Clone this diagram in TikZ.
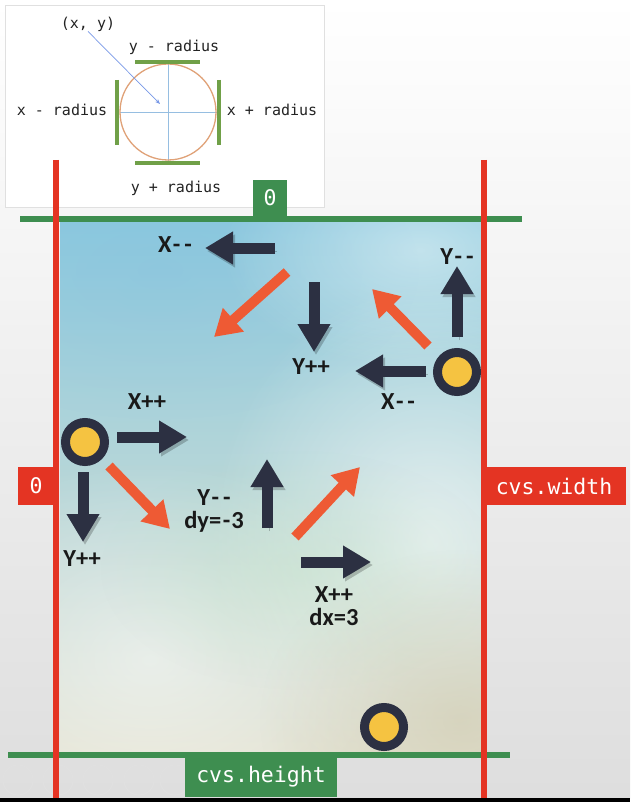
\documentclass[tikz,border=0pt]{standalone}
\usepackage{fontspec}
\setmainfont{Carlito}
\newfontfamily\codefont{DejaVu Sans Mono}
\usetikzlibrary{arrows.meta,fadings}

\definecolor{ballnavy}{RGB}{44,48,66}
\definecolor{ballyellow}{RGB}{245,195,65}
\definecolor{hotorange}{RGB}{238,90,52}
\definecolor{edgered}{RGB}{228,52,35}
\definecolor{edgegreen}{RGB}{62,142,80}
\definecolor{barsgreen}{RGB}{112,160,72}
\definecolor{ringtan}{RGB}{224,162,120}
\definecolor{crossblue}{RGB}{150,190,225}
\definecolor{inktext}{RGB}{35,35,35}
\definecolor{washtop}{RGB}{140,202,222}
\definecolor{washmid}{RGB}{205,228,226}
\definecolor{washlow}{RGB}{226,226,210}
\definecolor{washbeige}{RGB}{205,198,168}

\tikzfading[name=softspot, inner color=transparent!0, outer color=transparent!100]
\newcommand{\dminus}{\kern1.5pt-\kern4pt-}

\begin{document}
\begin{tikzpicture}[x=1pt,y=-1pt,
darkarrow/.style={draw=ballnavy, line width=11pt, -{Triangle[width=31pt,length=28pt]},
  preaction={draw=black, draw opacity=0.22, fill opacity=0.22, transform canvas={shift={(2pt,-3pt)}}}},
hotarrow/.style={draw=hotorange, line width=10pt, -{Triangle[width=30pt,length=26pt]}},
ballnode/.style={circle, draw=ballnavy, line width=9pt, fill=ballyellow, minimum size=39pt, inner sep=0pt},
movelabel/.style={font=\fontsize{24.5}{23}\selectfont\bfseries, text=black!90, align=center, inner sep=0pt},
sketchlabel/.style={font=\codefont\fontsize{15}{16}\selectfont, text=inktext, inner sep=0pt},
tagbox/.style={font=\codefont\fontsize{21.5}{22}\selectfont, text=white, inner sep=0pt},
guidered/.style={draw=edgered, line width=6pt},
guidegreen/.style={draw=edgegreen, line width=6pt},
sidebar/.style={draw=barsgreen, line width=4pt},
]
\useasboundingbox (0,0) rectangle (630,802);

%Slide background
\shade[top color=white, bottom color=black!13] (0,0) rectangle (630,798);
\fill[black] (0,798) rectangle (630,802);

%Canvas
\shade[top color=washtop, middle color=washmid, bottom color=washlow] (60,222) rectangle (482,752);
\begin{scope}
\clip (60,222) rectangle (482,752);
\fill[washtop!90!blue, fill opacity=0.2, path fading=softspot] (160,270) ellipse [x radius=260pt, y radius=150pt];
\fill[white, fill opacity=0.45, path fading=softspot] (420,250) ellipse [x radius=200pt, y radius=120pt];
\fill[white, fill opacity=0.6, path fading=softspot] (430,540) ellipse [x radius=220pt, y radius=260pt];
\fill[white, fill opacity=0.5, path fading=softspot] (150,660) ellipse [x radius=260pt, y radius=200pt];
\fill[washbeige, fill opacity=0.55, path fading=softspot] (460,720) ellipse [x radius=200pt, y radius=170pt];
\fill[green!40!gray!40, fill opacity=0.3, path fading=softspot] (300,570) ellipse [x radius=200pt, y radius=120pt];
\end{scope}

%Player controls
\foreach \cx in {18,58,98,139,175,217}
  \draw[black!12, line width=1.2pt] (\cx,780) circle [radius=15pt];

%Sketch
\draw[black!12, fill=white] (5,5) rectangle (324,207);
\node[sketchlabel] (xylabel)  at (88,24)  {(x, y)};
\node[sketchlabel] (ytop)     at (174,47) {y - radius};
\node[sketchlabel] (xleft)    at (62,110) {x - radius};
\node[sketchlabel] (xright)   at (272,110) {x + radius};
\node[sketchlabel] (ybottom)  at (176,188) {y + radius};
\coordinate (centre) at (168,112);
\coordinate (pointat) at (160,104);
\draw[crossblue, line width=0.8pt] (120,112) -- (217,112);
\draw[crossblue, line width=0.8pt] (168,63) -- (168,161);
\draw[ringtan, line width=1.3pt] (centre) circle [radius=48pt];
\draw[sidebar] (135,62) -- (200,62);
\draw[sidebar] (135,163) -- (200,163);
\draw[sidebar] (117,80) -- (117,145);
\draw[sidebar] (219,80) -- (219,145);
\draw[crossblue!80!blue, line width=0.7pt, -{Stealth[length=5pt,width=4pt]}] (xylabel.south) -- (pointat);

%Edges
\draw[guidegreen] (20,219) -- (522,219);
\draw[guidegreen] (8,755) -- (510,755);
\draw[guidered] (56,160) -- (56,798);
\draw[guidered] (484,160) -- (484,798);

%Tags
\node[tagbox, fill=edgegreen, minimum width=34pt, minimum height=36pt] (topzero)   at (270,198) {0};
\node[tagbox, fill=edgered,   minimum width=36pt, minimum height=38pt] (leftzero)  at (36,486)  {0};
\node[tagbox, fill=edgered,   minimum width=144pt, minimum height=38pt] (cvswidth) at (554,486) {cvs.width};
\node[tagbox, fill=edgegreen, minimum width=152pt, minimum height=40pt] (cvsheight) at (261,777) {cvs.height};

%Balls
\node[ballnode] (ballright)  at (457,372) {};
\node[ballnode] (ballleft)   at (85,442)  {};
\node[ballnode] (ballbottom) at (384,727) {};

%Arrow ends
\coordinate (topxfrom) at (275,248);  \coordinate (topxto) at (205,248);
\coordinate (midyfrom) at (314,282);  \coordinate (midyto) at (314,352);
\coordinate (rxfrom)   at (426,371);  \coordinate (rxto)   at (355,371);
\coordinate (ryfrom)   at (457,337);  \coordinate (ryto)   at (457,266);
\coordinate (lxfrom)   at (117,437);  \coordinate (lxto)   at (187,437);
\coordinate (lyfrom)   at (83,472);   \coordinate (lyto)   at (83,542);
\coordinate (cyfrom)   at (267,528);  \coordinate (cyto)   at (267,459);
\coordinate (cxfrom)   at (301,562);  \coordinate (cxto)   at (371,562);
\coordinate (hotafrom) at (287,272);  \coordinate (hotato) at (214,337);
\coordinate (hotbfrom) at (428,346);  \coordinate (hotbto) at (372,289);
\coordinate (hotcfrom) at (109,466);  \coordinate (hotcto) at (170,529);
\coordinate (hotdfrom) at (295,537);  \coordinate (hotdto) at (360,467);

%Moves
\draw[darkarrow] (topxfrom) -- (topxto);
\draw[darkarrow] (midyfrom) -- (midyto);
\draw[darkarrow] (rxfrom) -- (rxto);
\draw[darkarrow] (ryfrom) -- (ryto);
\draw[darkarrow] (lxfrom) -- (lxto);
\draw[darkarrow] (lyfrom) -- (lyto);
\draw[darkarrow] (cyfrom) -- (cyto);
\draw[darkarrow] (cxfrom) -- (cxto);
\draw[hotarrow] (hotafrom) -- (hotato);
\draw[hotarrow] (hotbfrom) -- (hotbto);
\draw[hotarrow] (hotcfrom) -- (hotcto);
\draw[hotarrow] (hotdfrom) -- (hotdto);

%Labels
\node[movelabel] (topxlabel) at (175,245) {X\dminus};
\node[movelabel] (midylabel) at (311,367) {Y++};
\node[movelabel] (rxlabel)   at (398,402) {X\dminus};
\node[movelabel] (rylabel)   at (457,257) {Y\dminus};
\node[movelabel] (lxlabel)   at (147,402) {X++};
\node[movelabel] (lylabel)   at (82,559)  {Y++};
\node[movelabel] (cylabel)   at (214,511) {Y\dminus\\dy=\kern1.5pt-\kern1pt3};
\node[movelabel] (cxlabel)   at (334,606) {X++\\dx=3};
\end{tikzpicture}
\end{document}
